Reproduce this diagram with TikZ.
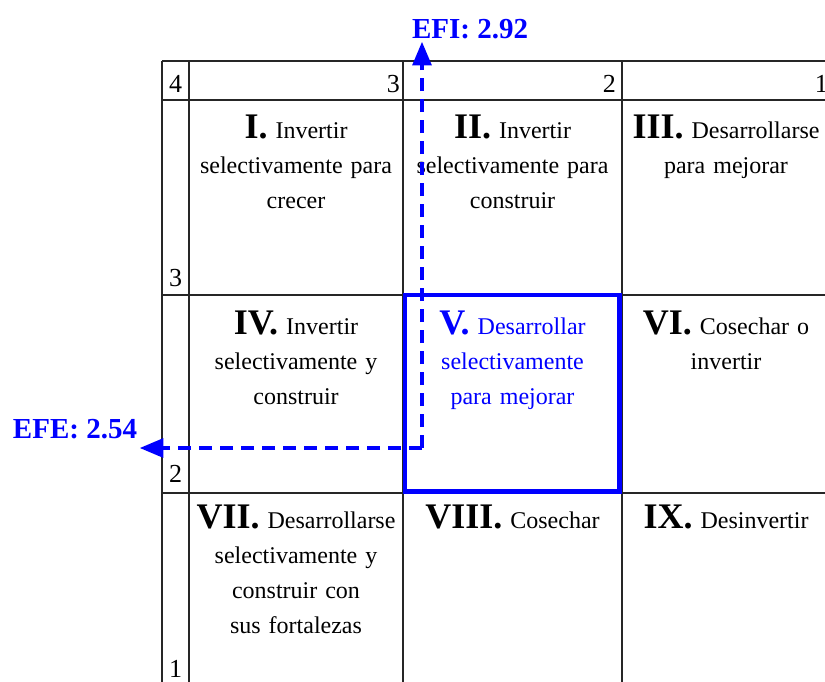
\documentclass[tikz,border=0pt]{standalone}
\usepackage{fontspec}
\setmainfont{Liberation Serif}
\usepackage{tikz}
\usetikzlibrary{shapes,arrows}
\definecolor{efblue}{RGB}{0,0,255}

\tikzset{
  tablelines/.style={line width=1.7pt, black!85},
  cell/.style={anchor=north, text width=212pt, align=center, inner sep=0pt,
    font=\fontsize{24}{35}\selectfont},
  num/.style={inner sep=0pt, font=\fontsize{26}{26}\selectfont},
  axis/.style={efblue, line width=4.6pt, dash pattern=on 13pt off 8pt, -triangle 45},
  score/.style={efblue, inner sep=0pt, font=\fontsize{29}{29}\selectfont\bfseries},
}
\newcommand{\cuad}[1]{{\fontsize{36}{35}\selectfont\bfseries #1}}

\begin{document}
\begin{tikzpicture}[x=1pt,y=-1pt]
  \useasboundingbox (0,0) rectangle (825,681);

  % Table lines
  \foreach \x in {162,189,403,622,830}
    \draw[tablelines] (\x,61) -- (\x,700);
  \foreach \y in {61,100,295,493}
    \draw[tablelines] (162,\y) -- (840,\y);

  % Header and row numbers
  \node[num, anchor=base] (h4) at (175.5,92) {4};
  \node[num, anchor=base east] (h3) at (400,92) {3};
  \node[num, anchor=base east] (h2) at (616,92) {2};
  \node[num, anchor=base east] (h1) at (828,92) {1};
  \node[num, anchor=base] (r3) at (175.5,286) {3};
  \node[num, anchor=base] (r2) at (175.5,482) {2};
  \node[num, anchor=base] (r1) at (175.5,677) {1};

  % Cells
  \node[cell] (c1) at (296,115) {\cuad{I.} Invertir\\ selectivamente para\\ crecer};
  \node[cell] (c2) at (512.5,115) {\cuad{II.} Invertir\\ selectivamente para\\ construir};
  \node[cell] (c3) at (726,115) {\cuad{III.} Desarrollarse\\ para mejorar};
  \node[cell] (c4) at (296,311) {\cuad{IV.} Invertir\\ selectivamente y\\ construir};
  \node[cell, text=efblue] (c5) at (512.5,311) {\cuad{V.} Desarrollar\\ selectivamente\\ para mejorar};
  \node[cell] (c6) at (726,311) {\cuad{VI.} Cosechar o\\ invertir};
  \node[cell] (c7) at (296,505) {\cuad{VII.} Desarrollarse\\ selectivamente y\\ construir con\\ sus fortalezas};
  \node[cell] (c8) at (512.5,505) {\cuad{VIII.} Cosechar};
  \node[cell] (c9) at (726,505) {\cuad{IX.} Desinvertir};

  % Selected quadrant
  \node[draw=efblue, line width=4.6pt, minimum width=214.5pt, minimum height=196.5pt,
    inner sep=0pt] (sel) at (512.25,393.25) {};

  % EFI / EFE
  \coordinate (cruce) at (422,448);
  \coordinate (efitip) at (422,42);
  \coordinate (efetip) at (140,448);
  \draw[axis] (cruce) -- (efitip);
  \draw[axis] (cruce) -- (efetip);
  \node[score, anchor=base] (efi) at (470,38) {EFI: 2.92};
  \node[score, anchor=base] (efe) at (75,438) {EFE: 2.54};

\end{tikzpicture}
\end{document}
